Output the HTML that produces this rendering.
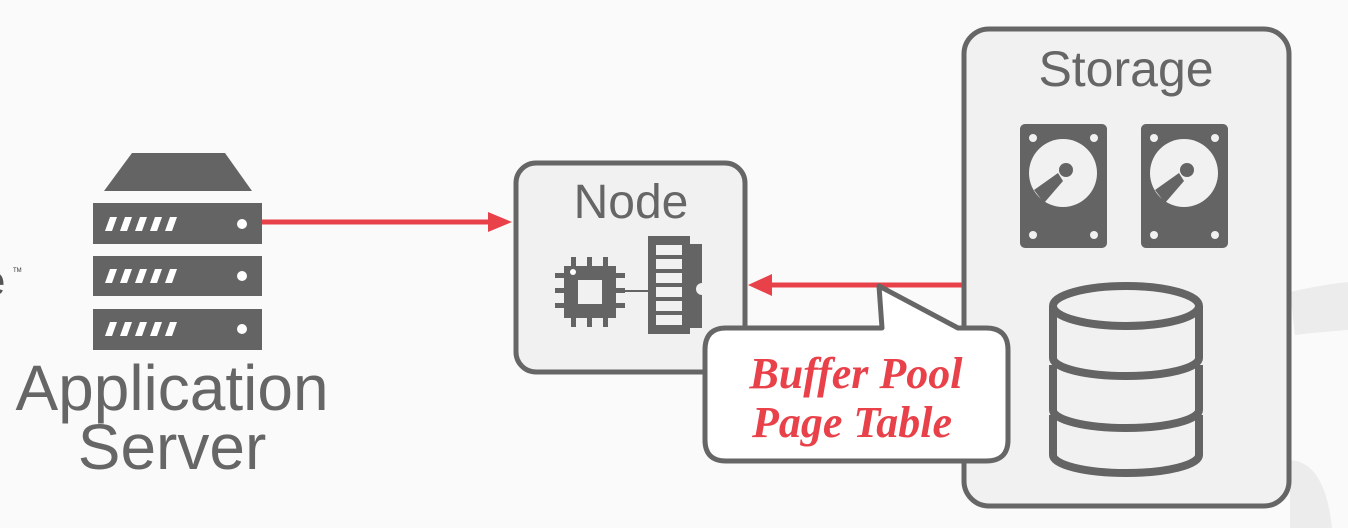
<!DOCTYPE html>
<html><head><meta charset="utf-8"><style>
html,body{margin:0;padding:0;background:#f9f9f9;}
svg{display:block;}
</style></head><body>
<svg width="1348" height="528" viewBox="0 0 1348 528" xmlns="http://www.w3.org/2000/svg">
<rect width="1348" height="528" fill="#fafafa"/>
<!-- faint background swooshes -->
<path d="M1290 292 Q1320 285 1348 282 L1348 330 Q1320 332 1295 335 Z" fill="#ececec"/>
<path d="M1290 460 Q1325 462 1332 528 L1290 528 Z" fill="#ececec"/>
<!-- partial text at left -->
<text x="-18" y="295" font-family="Liberation Sans, sans-serif" font-size="42" fill="#555">e</text>
<text x="13" y="272" font-family="Liberation Sans, sans-serif" font-size="6" fill="#333">TM</text>
<!-- server -->
<g fill="#646464">
<polygon points="132,153 225,153 252,191 104,191"/>
<rect x="93" y="203" width="169" height="41"/>
<rect x="93" y="256" width="169" height="40"/>
<rect x="93" y="309" width="169" height="41"/>
</g>
<g fill="#fff">
<circle cx="242" cy="224" r="5"/><circle cx="242" cy="276" r="5"/><circle cx="242" cy="329" r="5"/>
<g id="sl"><polygon points="105,231 110,217 117,217 112,231"/><polygon points="120,231 125,217 132,217 127,231"/><polygon points="135,231 140,217 147,217 142,231"/><polygon points="150,231 155,217 162,217 157,231"/><polygon points="165,231 170,217 177,217 172,231"/></g>
<use href="#sl" y="52"/><use href="#sl" y="105"/>
</g>
<text x="172" y="410" text-anchor="middle" font-family="Liberation Sans, sans-serif" font-size="64" fill="#666">Application</text>
<text x="172" y="469" text-anchor="middle" font-family="Liberation Sans, sans-serif" font-size="64" fill="#666">Server</text>
<!-- arrow 1 -->
<line x1="262" y1="222" x2="495" y2="222" stroke="#e8414a" stroke-width="5"/>
<polygon points="488,212 512,222 488,232" fill="#e8414a"/>
<!-- node -->
<rect x="516" y="163" width="229" height="209" rx="20" fill="#f1f1f1" stroke="#666" stroke-width="5"/>
<text x="631" y="218" text-anchor="middle" font-family="Liberation Sans, sans-serif" font-size="48" fill="#666">Node</text>
<g fill="#646464">
<rect x="564" y="266" width="52" height="52"/>
<rect x="571" y="257" width="5" height="70"/><rect x="587" y="257" width="5" height="70"/><rect x="603" y="257" width="5" height="70"/>
<rect x="555" y="273" width="70" height="5"/><rect x="555" y="288" width="70" height="5"/><rect x="555" y="303" width="70" height="5"/>
<rect x="616" y="290" width="33" height="2"/>
<rect x="648" y="236" width="42" height="98"/>
<rect x="690" y="244" width="12" height="84"/>
</g>
<rect x="578" y="280" width="24" height="24" fill="#f1f1f1"/>
<circle cx="573" cy="272" r="3" fill="#fff"/>
<g fill="#f1f1f1">
<rect x="656" y="245" width="26" height="10"/><rect x="656" y="259" width="26" height="10"/><rect x="656" y="273" width="26" height="10"/><rect x="656" y="287" width="26" height="10"/><rect x="656" y="301" width="26" height="10"/><rect x="656" y="315" width="26" height="10"/>
<circle cx="702" cy="289" r="6"/>
</g>
<!-- storage -->
<rect x="964" y="29" width="325" height="477" rx="25" fill="#f1f1f1" stroke="#666" stroke-width="5"/>
<text x="1126" y="86" text-anchor="middle" font-family="Liberation Sans, sans-serif" font-size="50" fill="#666">Storage</text>
<g id="disk">
<rect x="1020" y="124" width="87" height="124" rx="5" fill="#646464"/>
<circle cx="1063" cy="173" r="34" fill="#f1f1f1"/>
<circle cx="1066" cy="170" r="7" fill="#646464"/>
<polygon points="1034,190 1058,173 1063,181 1044,203" fill="#646464"/>
<g fill="#f1f1f1"><circle cx="1033" cy="138" r="4"/><circle cx="1094" cy="138" r="4"/><circle cx="1033" cy="235" r="4"/><circle cx="1094" cy="235" r="4"/></g>
</g>
<use href="#disk" x="121"/>
<g fill="#f1f1f1" stroke="#646464" stroke-width="8">
<path d="M1053 415 v40 a73 18 0 0 0 146 0 v-40"/>
<path d="M1053 365 v45 a73 18 0 0 0 146 0 v-45"/>
<path d="M1053 306 v52 a73 18 0 0 0 146 0 v-52"/>
<ellipse cx="1126" cy="306" rx="73" ry="20"/>
</g>
<!-- arrow 2 -->
<line x1="962" y1="285" x2="765" y2="285" stroke="#e8414a" stroke-width="5"/>
<polygon points="772,274 748,285 772,296" fill="#e8414a"/>
<!-- callout -->
<path d="M726 328 H882 L879 286 L958 328 H986 Q1008 328 1008 350 V440 Q1008 461 986 461 H726 Q705 461 705 440 V350 Q705 328 726 328 Z" fill="#fff" stroke="#666" stroke-width="5" stroke-linejoin="round"/>
<text x="856" y="388" text-anchor="middle" font-family="Liberation Serif, serif" font-style="italic" font-weight="bold" font-size="44" fill="#e8414a">Buffer Pool</text>
<text x="852" y="437" text-anchor="middle" font-family="Liberation Serif, serif" font-style="italic" font-weight="bold" font-size="44" fill="#e8414a">Page Table</text>
</svg>
</body></html>
